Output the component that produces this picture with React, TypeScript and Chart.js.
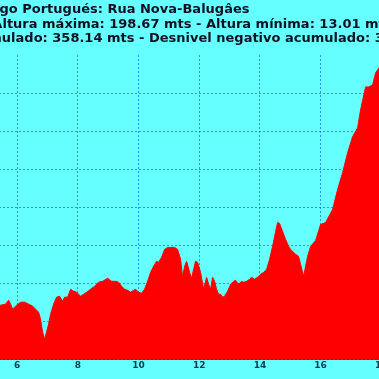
import React, { useEffect, useRef } from 'react';
import { Chart, registerables } from 'chart.js';

Chart.register(...registerables);

// Distance along the stage (km)
const distanceKm = [
  5.40, 5.456, 5.621, 5.720, 5.786, 5.852, 5.918, 5.984, 6.115, 6.247, 6.379, 6.511, 6.610, 6.708,
  6.774, 6.840, 6.906, 6.972, 7.038, 7.104, 7.203, 7.301, 7.400, 7.499, 7.565, 7.664, 7.763, 7.862,
  7.960, 8.092, 8.191, 8.290, 8.422, 8.554, 8.685, 8.817, 8.982, 9.114, 9.245, 9.344, 9.443, 9.542,
  9.641, 9.740, 9.839, 9.905, 10.003, 10.102, 10.201, 10.300, 10.399, 10.498, 10.596, 10.662, 10.761,
  10.860, 10.959, 11.058, 11.190, 11.289, 11.387, 11.453, 11.519, 11.585, 11.684, 11.750, 11.816,
  11.882, 11.948, 12.046, 12.145, 12.211, 12.244, 12.310, 12.376, 12.442, 12.508, 12.573, 12.639,
  12.705, 12.771, 12.837, 12.936, 13.035, 13.134, 13.200, 13.266, 13.332, 13.397, 13.463, 13.562,
  13.661, 13.727, 13.826, 13.925, 14.023, 14.122, 14.221, 14.320, 14.419, 14.518, 14.584, 14.649,
  14.748, 14.847, 14.946, 15.012, 15.177, 15.276, 15.440, 15.572, 15.671, 15.836, 16.000, 16.165,
  16.396, 16.560, 16.725, 16.890, 17.054, 17.219, 17.318, 17.483, 17.582, 17.713, 17.812, 17.944,
  18.10,
];

// Altitude (m)
const altitudeM = [
  35.4, 35.4, 36.1, 38.7, 36.1, 32.8, 34.1, 35.4, 37.4, 37.4, 36.1, 34.8, 32.8, 30.8,
  26.2, 17.7, 13.01, 17.7, 23.0, 29.5, 36.1, 40.7, 41.3, 38.0, 40.7, 40.7, 45.9, 44.6,
  43.9, 41.3, 42.6, 43.9, 45.9, 47.9, 50.5, 51.1, 53.1, 51.1, 51.1, 50.5, 47.9, 45.9,
  45.2, 43.9, 45.2, 45.9, 43.9, 43.3, 45.9, 51.1, 57.0, 61.0, 64.3, 63.6, 66.9,
  72.1, 73.4, 73.4, 73.4, 72.1, 65.6, 53.8, 61.0, 64.3, 57.0, 53.1, 59.0,
  64.3, 63.6, 57.0, 45.9, 51.1, 53.8, 49.2, 45.9, 53.8, 51.1, 45.9, 42.6,
  42.6, 40.7, 41.3, 44.6, 49.2, 51.1, 51.8, 49.8, 49.8, 51.1, 50.5, 51.1,
  52.5, 53.8, 52.5, 53.8, 55.7, 57.0, 59.0, 65.6, 74.1, 83.9, 89.8, 89.2,
  83.9, 78.7, 74.1, 72.1, 68.9, 67.5, 54.4, 67.5, 74.1, 78.0, 88.5, 89.8,
  98.4, 111.5, 122.6, 135.7, 146.2, 152.1, 163.9, 179.0, 179.0, 180.3, 188.2, 192.1,
  198.67,
];

const xMinKm = 0;
const xMaxKm = 18.6;
const xStepKm = 2;
const yMinM = 0;
const yMaxM = 200;
const yStepM = 25;

const titleLines = [
  'Ruta Camino de Santiago Portugués: Rua Nova-Balugâes',
  'Distancia: 18.55 km - Altura máxima: 198.67 mts - Altura mínima: 13.01 mts',
  'Desnivel positivo acumulado: 358.14 mts - Desnivel negativo acumulado: 315.75 mts',
];

const GRID = 'rgba(0,60,230,0.55)';

export default function App() {
  const ref = useRef<HTMLCanvasElement>(null);

  useEffect(() => {
    const canvas = ref.current;
    if (!canvas) return;
    const points = distanceKm.map((x, i) => ({ x, y: altitudeM[i] }));

    const titlePlugin = {
      id: 'leftTitle',
      afterDraw(chart: any) {
        const { ctx, chartArea } = chart;
        ctx.save();
        ctx.font = 'bold 13px "DejaVu Sans"';
        ctx.fillStyle = '#111122';
        ctx.textBaseline = 'alphabetic';
        ctx.textAlign = 'left';
        titleLines.forEach((t, i) => ctx.fillText(t, chartArea.left - 2.8, 13.3 + i * 14.35));
        ctx.restore();
      },
    };

    const chart = new Chart(canvas, {
      type: 'line',
      data: {
        datasets: [
          {
            data: points,
            fill: 'origin',
            backgroundColor: '#ff0000',
            borderColor: '#ff0000',
            borderWidth: 1,
            pointRadius: 0,
            tension: 0,
          },
        ],
      },
      options: {
        animation: false,
        responsive: false,
        devicePixelRatio: 1,
        layout: { padding: { left: 10, right: 5.5, top: 55, bottom: 7.2 } },
        plugins: {
          legend: { display: false },
          tooltip: { enabled: false },
          title: { display: false },
        },
        scales: {
          x: {
            type: 'linear',
            min: xMinKm,
            max: xMaxKm,
            z: 1,
            ticks: {
              stepSize: xStepKm,
              includeBounds: false,
              padding: 1,
              autoSkip: false,
              maxRotation: 0,
              color: '#0c3b4f',
              font: { family: 'DejaVu Sans', weight: 'bold', size: 9 },
            },
            grid: { color: GRID, drawTicks: false, lineWidth: 1 },
            border: { display: true, color: 'rgba(60,0,120,0.7)', dash: [2, 2] },
          },
          y: {
            type: 'linear',
            min: yMinM,
            max: yMaxM,
            z: 1,
            ticks: { display: false, stepSize: yStepM },
            grid: {
              drawTicks: false,
              lineWidth: 1,
              color: (c: any) => (c.tick && c.tick.value === yMaxM ? 'rgba(0,0,0,0)' : GRID),
            },
            border: { display: false, dash: [2, 2] },
          },
        },
      },
      plugins: [titlePlugin],
    });
    return () => chart.destroy();
  }, []);

  return (
    <div
      style={{
        position: 'fixed',
        left: 0,
        top: 0,
        width: 379,
        height: 379,
        overflow: 'hidden',
        background: '#66ffff',
      }}
    >
      <canvas
        ref={ref}
        width={580}
        height={379}
        style={{ position: 'absolute', left: -175, top: 0, width: 580, height: 379 }}
      />
    </div>
  );
}
